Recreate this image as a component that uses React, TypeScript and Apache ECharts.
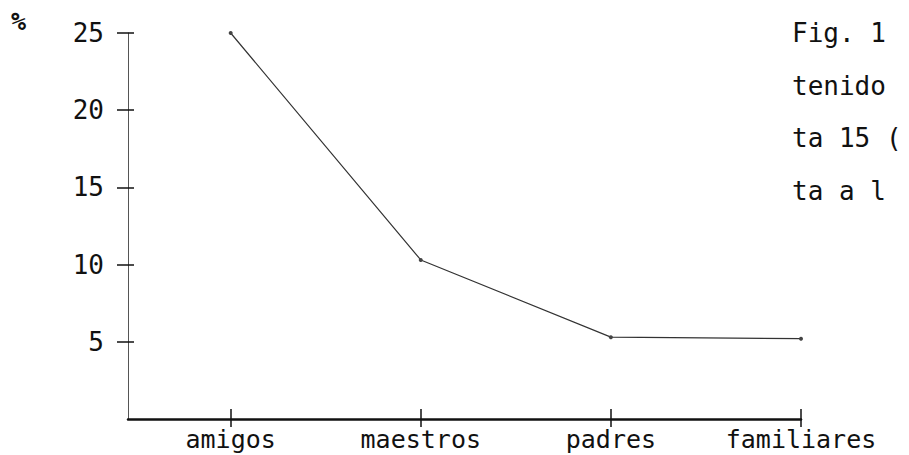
import React, { useEffect, useRef } from "react";
import * as echarts from "echarts";

const categories = ["amigos", "maestros", "padres", "familiares"];
const values = [25, 10.3, 5.3, 5.2];
const yTicks = [5, 10, 15, 20, 25];
const captionLines = ["Fig. 1", "tenido", "ta 15 (", "ta a l"];
const unitLabel = "%";

const FONT = "'DejaVu Sans Mono', 'Liberation Mono', monospace";

export default function App() {
  const ref = useRef<HTMLDivElement>(null);
  useEffect(() => {
    if (!ref.current) return;
    const chart = echarts.init(ref.current, undefined, { renderer: "svg" });
    const catIdx = categories.map((_, i) => i);
    const data = values.map((v, i) => [catIdx[i], v]);
    const captionGraphics = captionLines.map((t, i) => ({
      type: "text",
      left: 792,
      top: 20 + i * 52.5,
      style: { text: t, font: `26px ${FONT}`, fill: "#111" },
    }));
    chart.setOption({
      animation: false,
      backgroundColor: "#ffffff",
      grid: { left: 128, right: 108, top: 33, bottom: 36, containLabel: false },
      xAxis: [
        {
          type: "value",
          min: -0.54,
          max: 3,
          position: "bottom",
          axisLine: { show: true, onZero: false, lineStyle: { color: "#111", width: 2.5 } },
          axisTick: {
            show: true,
            inside: false,
            length: 8,
            customValues: catIdx,
            lineStyle: { color: "#111", width: 1.5 },
          },
          axisLabel: {
            show: true,
            customValues: catIdx,
            margin: 6,
            formatter: (v: number) => categories[Math.round(v)] ?? "",
            fontFamily: FONT,
            fontSize: 25,
            lineHeight: 28,
            color: "#111",
          },
          splitLine: { show: false },
        },
        {
          type: "value",
          min: -0.54,
          max: 3,
          position: "bottom",
          axisLine: { show: false, onZero: false },
          axisTick: {
            show: true,
            inside: true,
            length: 10,
            customValues: catIdx,
            lineStyle: { color: "#111", width: 1.5 },
          },
          axisLabel: { show: false },
          splitLine: { show: false },
        },
      ],
      yAxis: [
        {
          type: "value",
          min: 0,
          max: 25,
          interval: 5,
          position: "left",
          axisLine: { show: true, onZero: false, lineStyle: { color: "#555", width: 1 } },
          axisTick: {
            show: true,
            inside: false,
            length: 11,
            customValues: yTicks,
            lineStyle: { color: "#111", width: 1.5 },
          },
          axisLabel: {
            show: true,
            customValues: yTicks,
            margin: 24,
            fontFamily: FONT,
            fontSize: 26,
            color: "#111",
          },
          splitLine: { show: false },
        },
        {
          type: "value",
          min: 0,
          max: 25,
          interval: 5,
          position: "left",
          axisLine: { show: false, onZero: false },
          axisTick: {
            show: true,
            inside: true,
            length: 6,
            customValues: yTicks,
            lineStyle: { color: "#111", width: 1.5 },
          },
          axisLabel: { show: false },
          splitLine: { show: false },
        },
      ],
      series: [
        {
          type: "line",
          data,
          xAxisIndex: 0,
          yAxisIndex: 0,
          symbol: "circle",
          symbolSize: 4,
          itemStyle: { color: "#444" },
          lineStyle: { color: "#333", width: 1.2 },
        },
      ],
      graphic: [
        {
          type: "text",
          left: 11,
          top: 9,
          style: { text: unitLabel, font: `bold 25px ${FONT}`, fill: "#111" },
        },
        ...captionGraphics,
      ],
    });
    return () => chart.dispose();
  }, []);
  return (
    <div
      ref={ref}
      style={{ position: "fixed", left: 0, top: 0, width: 909, height: 455, background: "#fff" }}
    />
  );
}
